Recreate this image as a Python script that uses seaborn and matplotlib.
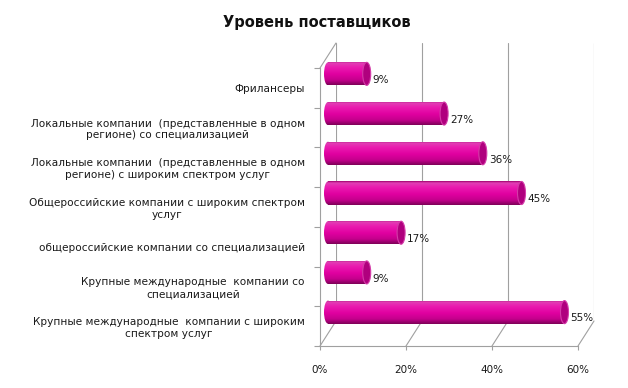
import matplotlib
matplotlib.use("Agg")
import numpy as np
import pandas as pd
import matplotlib.pyplot as plt
import seaborn as sns
from matplotlib.patches import Ellipse, ConnectionPatch
from matplotlib.colors import LinearSegmentedColormap

# data (top to bottom)
categories = [
    "Фрилансеры",
    "Локальные компании  (представленные в одном\nрегионе) со специализацией",
    "Локальные компании  (представленные в одном\nрегионе) с широким спектром услуг",
    "Общероссийские компании с широким спектром\nуслуг",
    "общероссийские компании со специализацией",
    "Крупные международные  компании со\nспециализацией",
    "Крупные международные  компании с широким\nспектром услуг",
]
values = [9, 27, 36, 45, 17, 9, 55]
x_ticks = [0, 20, 40, 60]
x_tick_labels = ["0%", "20%", "40%", "60%"]
title = "Уровень поставщиков"

W, H = 628, 388
GRAY = "#A0A0A0"


def px_rect(left, right, top, bottom):
    return [left / W, 1 - bottom / H, (right - left) / W, (bottom - top) / H]


sns.set_theme(style="white")
plt.rcParams["font.family"] = ["DejaVu Sans"]

df = pd.DataFrame({"category": categories, "share": values})
n = len(categories)
ylim = (n - 0.5, -0.5)
xlim = (x_ticks[0], x_ticks[-1])

fig = plt.figure(figsize=(W / 100, H / 100), dpi=100)

# back wall, middle (bars) and front plane of the pseudo-3d box
ax_back = fig.add_axes(px_rect(336, 594, 43, 321))
ax_bars = fig.add_axes(px_rect(328, 586, 54, 332))
ax_front = fig.add_axes(px_rect(320, 578, 68, 346))
for i, ax in enumerate([ax_back, ax_bars, ax_front]):
    ax.set_zorder(i)
    ax.patch.set_alpha(0)
    ax.set_xlim(*xlim)
    ax.set_ylim(*ylim)

# back wall grid
ax_back.set_xticks(x_ticks)
ax_back.set_yticks([])
ax_back.tick_params(axis="x", length=0, labelbottom=False)
ax_back.grid(axis="x", color=GRAY, lw=0.8)
for s in ax_back.spines.values():
    s.set_visible(False)

# bars
sns.barplot(data=df, x="share", y="category", orient="h", ax=ax_bars,
            width=0.58, color="#E000A0", saturation=1)
ax_bars.set_axis_off()

grad = LinearSegmentedColormap.from_list(
    "cyl", [(0, "#A0006E"), (0.07, "#E040B4"), (0.25, "#EA1CB0"),
            (0.55, "#E000A0"), (0.8, "#C4008C"), (1, "#7E0058")])
img = np.linspace(0, 1, 64).reshape(-1, 1)
cap_w = 8 * (xlim[1] - xlim[0]) / 258  # cap ellipse width in data units

for p, v in zip(ax_bars.patches, values):
    x0, y0 = p.get_x(), p.get_y()
    w, h = p.get_width(), p.get_height()
    p.set_facecolor("none")
    p.set_edgecolor("none")
    left_cap = Ellipse((x0, y0 + h / 2), cap_w, h, facecolor="none",
                       edgecolor="none", clip_on=False)
    ax_bars.add_patch(left_cap)
    for clip in (p, left_cap):
        im = ax_bars.imshow(img, cmap=grad, extent=(x0 - cap_w / 2, x0 + w, y0 + h, y0),
                            origin="upper", aspect="auto", zorder=2,
                            interpolation="bilinear")
        im.set_clip_path(clip)
        if clip is left_cap:
            im.set_clip_box(fig.bbox)
    ax_bars.add_patch(Ellipse((x0 + w, y0 + h / 2), cap_w, h, facecolor="#B0007E",
                              edgecolor="#D43CA8", lw=0.8, zorder=3, clip_on=False))
    ax_bars.annotate(f"{v}%", xy=(x0 + w + cap_w / 2, y0 + h / 2), xytext=(1.5, -4.5),
                     textcoords="offset points", ha="left", va="center",
                     fontsize=7.5, color="#1a1a1a", zorder=4)
ax_bars.set_xlim(*xlim)
ax_bars.set_ylim(*ylim)

# front plane: axis lines, ticks and labels
for name, s in ax_front.spines.items():
    if name in ("left", "bottom"):
        s.set_color(GRAY)
        s.set_linewidth(0.8)
    else:
        s.set_visible(False)
ax_front.set_xticks(x_ticks)
ax_front.set_xticklabels(x_tick_labels)
ax_front.set_yticks(range(n))
ax_front.set_yticklabels(categories, multialignment="center")
ax_front.set_yticks(np.arange(n + 1) - 0.5, minor=True)
ax_front.tick_params(axis="y", which="major", length=0, pad=11, labelsize=7.6,
                     labelcolor="#1a1a1a")
ax_front.tick_params(axis="y", which="minor", left=True, length=4, width=0.8, color=GRAY)
ax_front.tick_params(axis="x", bottom=True, length=3, width=0.8, color=GRAY,
                     pad=11, labelsize=7.5, labelcolor="#1a1a1a")
ax_front.set_xlabel("")
ax_front.set_ylabel("")

# depth edges joining front plane to back wall
for v in x_ticks:
    fig.add_artist(ConnectionPatch(xyA=(v, ylim[0]), coordsA=ax_front.transData,
                                   xyB=(v, ylim[0]), coordsB=ax_back.transData,
                                   color=GRAY, lw=0.8))
fig.add_artist(ConnectionPatch(xyA=(0, ylim[1]), coordsA=ax_front.transData,
                               xyB=(0, ylim[1]), coordsB=ax_back.transData,
                               color=GRAY, lw=0.8))

fig.text(317 / W, 1 - 23 / H, title, ha="center", va="center",
         fontsize=10.5, fontweight="bold", color="#111111")

fig.savefig("out.png", dpi=100)
